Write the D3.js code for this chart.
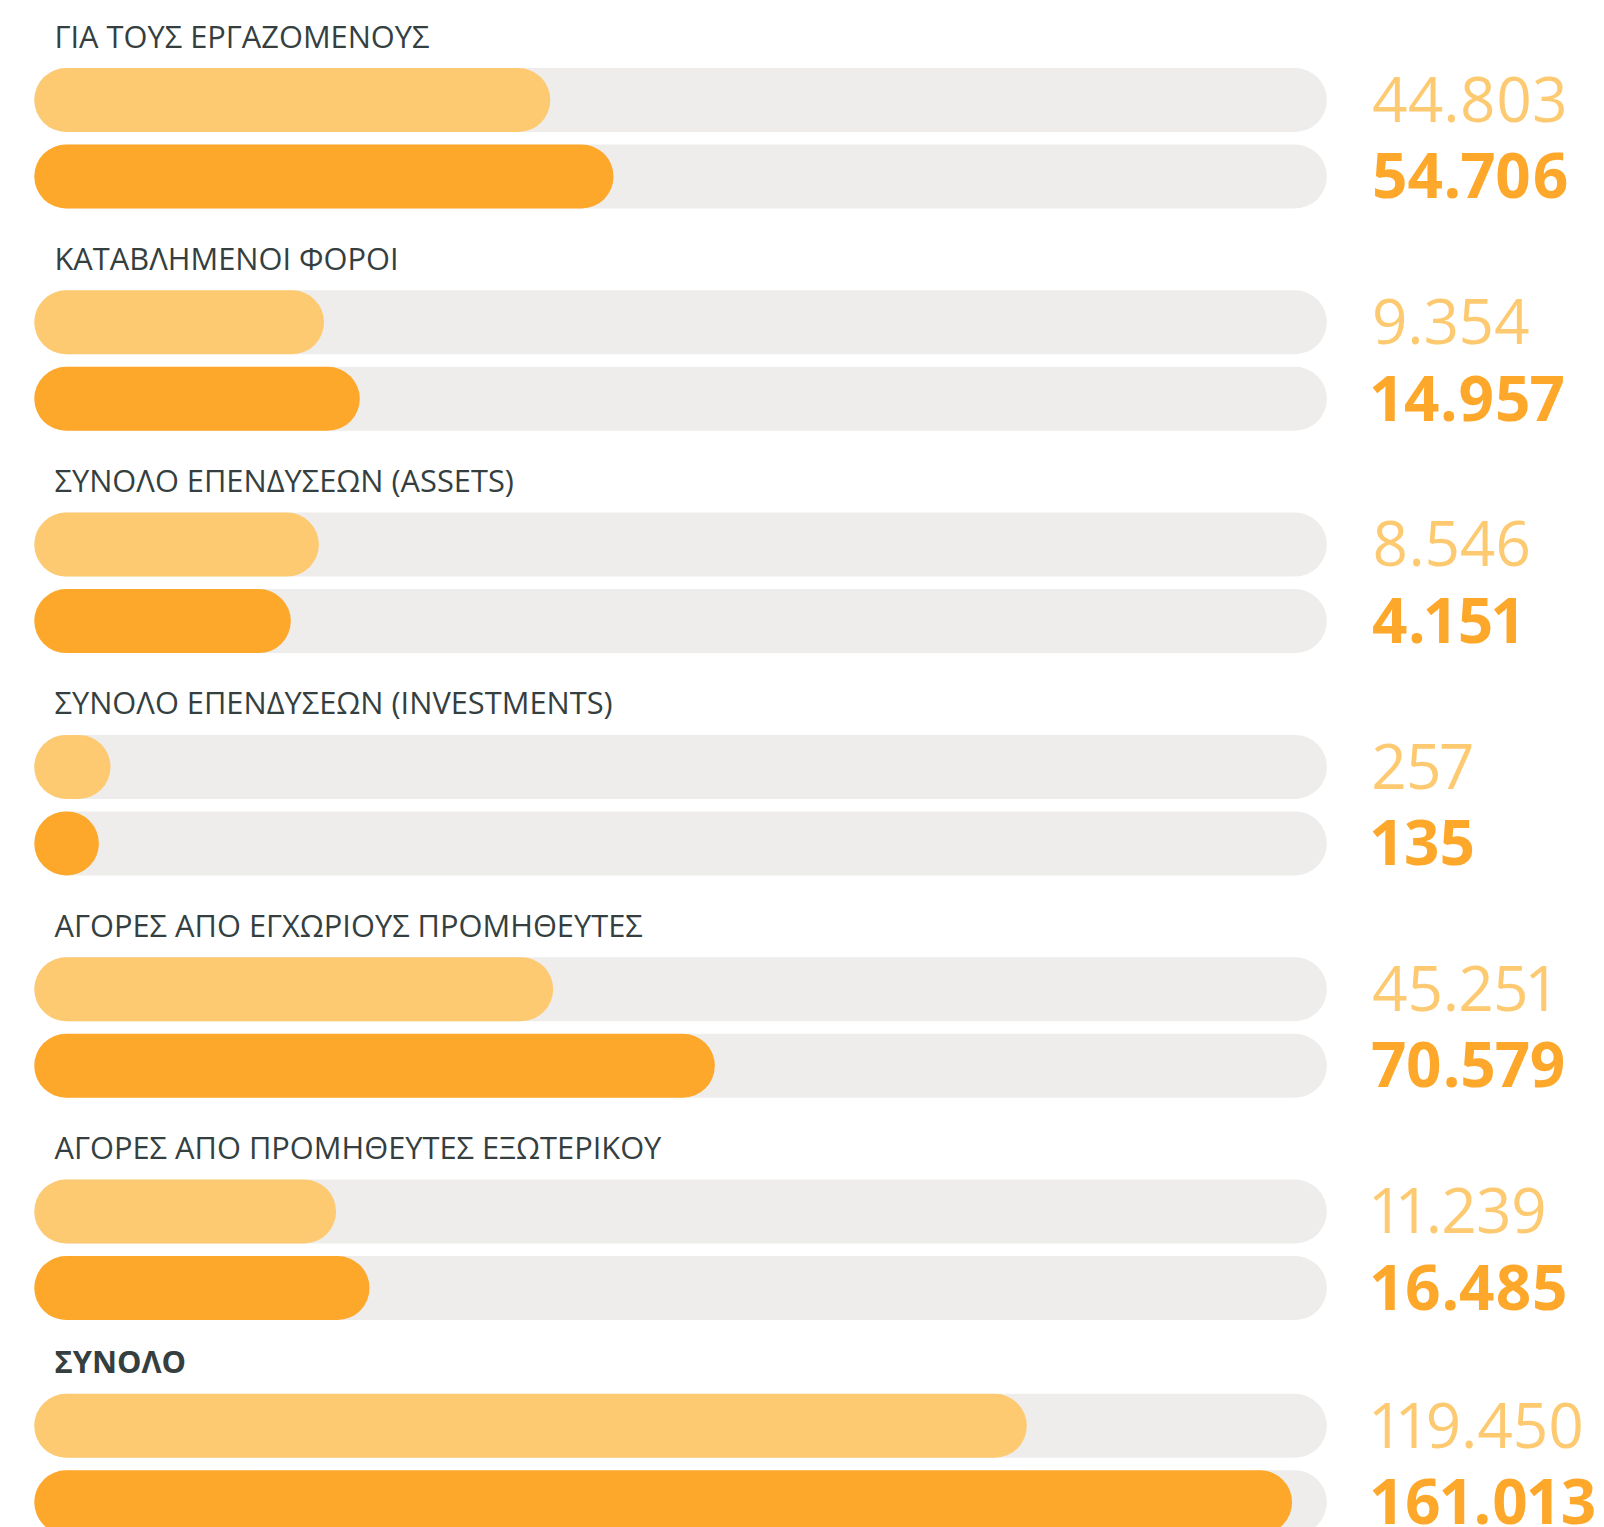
<!DOCTYPE html>
<html>
<head>
<meta charset="utf-8">
<script src="https://cdn.jsdelivr.net/npm/d3@7"></script>
<style>
  html, body { margin: 0; padding: 0; background: #ffffff; overflow: hidden; }
  svg { display: block; }
  .value { font-variant-numeric: proportional-nums; font-feature-settings: "pnum" 1; }
</style>
</head>
<body>
<div id="chart"></div>
<script>
// Categories (the last one is the grand total)
const categories = [
  "ΓΙΑ ΤΟΥΣ ΕΡΓΑΖΟΜΕΝΟΥΣ",
  "ΚΑΤΑΒΛΗΜΕΝΟΙ ΦΟΡΟΙ",
  "ΣΥΝΟΛΟ ΕΠΕΝΔΥΣΕΩΝ (ASSETS)",
  "ΣΥΝΟΛΟ ΕΠΕΝΔΥΣΕΩΝ (INVESTMENTS)",
  "ΑΓΟΡΕΣ ΑΠΟ ΕΓΧΩΡΙΟΥΣ ΠΡΟΜΗΘΕΥΤΕΣ",
  "ΑΓΟΡΕΣ ΑΠΟ ΠΡΟΜΗΘΕΥΤΕΣ ΕΞΩΤΕΡΙΚΟΥ",
  "ΣΥΝΟΛΟ"
];
const totalCategory = "ΣΥΝΟΛΟ";

// Two series per category: earlier period (light) and later period (dark)
const previousValues = [44803, 9354, 8546, 257, 45251, 11239, 119450];
const currentValues  = [54706, 14957, 4151, 135, 70579, 16485, 161013];

const W = 1604, H = 1527;
const colors = {
  previous: "#fdca71",
  current: "#fda82a",
  track: "#eeedeb",
  title: "#353f3f"
};

const locale = d3.formatLocale({ decimal: ",", thousands: ".", grouping: [3], currency: ["", "€"] });
const fmt = locale.format(",d");

const trackX = 34.3;
const trackW = 1292.6;
const barH = 64;
const barGap = 76.5;       // distance from top of first bar to top of second bar
const titleOffset = 20.5;  // title baseline above first bar
const valueX = 1372;

// Bar length scale: compressed low segment so tiny values still read as pills
const maxValue = d3.max(currentValues.concat(previousValues));
const wScale = d3.scaleLinear()
  .domain([0, 2000, maxValue])
  .range([51.7, 242.8, 1257.8]);

// Vertical placement of each group (total group sits slightly tighter)
const yScale = d3.scaleLinear().domain([0, 1]).range([68, 68 + 222.3]);
const groupTop = (c, i) => yScale(i) - (c === totalCategory ? 8 : 0);

const rows = categories.map((c, i) => ({
  category: c,
  index: i,
  top: groupTop(c, i),
  series: [
    { key: "previous", value: previousValues[i], offset: 0 },
    { key: "current", value: currentValues[i], offset: barGap }
  ]
}));

const svg = d3.select("#chart").append("svg")
  .attr("width", W).attr("height", H)
  .attr("viewBox", `0 0 ${W} ${H}`)
  .style("font-family", "'Open Sans', 'Noto Sans', sans-serif");

const g = svg.selectAll("g.group").data(rows).join("g")
  .attr("class", "group")
  .attr("transform", d => `translate(0,${d.top})`);

g.append("text")
  .attr("x", 54.5)
  .attr("y", -titleOffset)
  .attr("fill", colors.title)
  .attr("font-size", 30.8)
  .attr("font-weight", d => d.category === totalCategory ? 700 : 400)
  .text(d => d.category);

const bar = g.selectAll("g.bar").data(d => d.series).join("g")
  .attr("class", "bar")
  .attr("transform", s => `translate(0,${s.offset})`);

bar.append("rect")
  .attr("x", trackX).attr("y", 0)
  .attr("width", trackW).attr("height", barH)
  .attr("rx", barH / 2).attr("ry", barH / 2)
  .attr("fill", colors.track);

bar.append("rect")
  .attr("x", trackX).attr("y", 0)
  .attr("width", s => Math.max(barH, wScale(s.value)))
  .attr("height", barH)
  .attr("rx", barH / 2).attr("ry", barH / 2)
  .attr("fill", s => colors[s.key]);

bar.append("text")
  .attr("class", "value")
  .attr("x", valueX)
  .attr("y", barH / 2 + 21.7)
  .attr("font-size", 62)
  .attr("font-weight", s => s.key === "current" ? 700 : 400)
  .attr("fill", s => colors[s.key])
  .text(s => fmt(s.value));
</script>
</body>
</html>
